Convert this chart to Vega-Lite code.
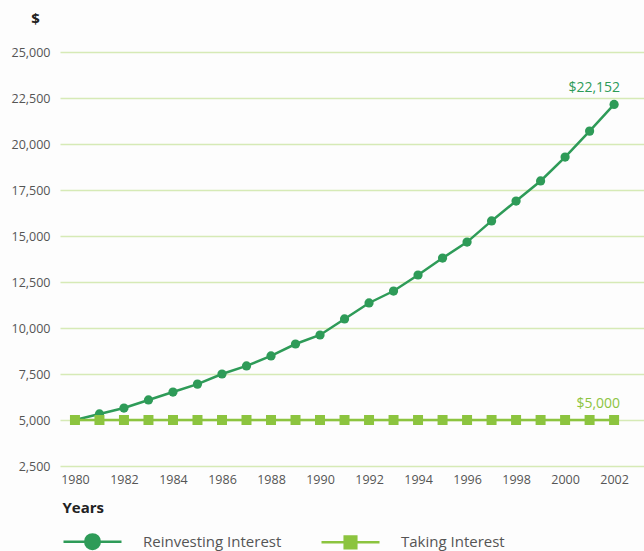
{
  "$schema": "https://vega.github.io/schema/vega-lite/v6.json",
  "autosize": "none",
  "width": 584,
  "height": 414,
  "padding": {"left": 60, "top": 52, "right": 0, "bottom": 85},
  "background": "#fdfdfd",
  "config": {"view": {"stroke": null}, "font": "Open Sans"},
  "datasets": {
    "series": [
      {"year": 1980, "value": 5000, "series": "Reinvesting Interest"},
      {"year": 1981, "value": 5330, "series": "Reinvesting Interest"},
      {"year": 1982, "value": 5650, "series": "Reinvesting Interest"},
      {"year": 1983, "value": 6090, "series": "Reinvesting Interest"},
      {"year": 1984, "value": 6520, "series": "Reinvesting Interest"},
      {"year": 1985, "value": 6950, "series": "Reinvesting Interest"},
      {"year": 1986, "value": 7500, "series": "Reinvesting Interest"},
      {"year": 1987, "value": 7940, "series": "Reinvesting Interest"},
      {"year": 1988, "value": 8480, "series": "Reinvesting Interest"},
      {"year": 1989, "value": 9130, "series": "Reinvesting Interest"},
      {"year": 1990, "value": 9620, "series": "Reinvesting Interest"},
      {"year": 1991, "value": 10490, "series": "Reinvesting Interest"},
      {"year": 1992, "value": 11360, "series": "Reinvesting Interest"},
      {"year": 1993, "value": 12010, "series": "Reinvesting Interest"},
      {"year": 1994, "value": 12880, "series": "Reinvesting Interest"},
      {"year": 1995, "value": 13800, "series": "Reinvesting Interest"},
      {"year": 1996, "value": 14670, "series": "Reinvesting Interest"},
      {"year": 1997, "value": 15820, "series": "Reinvesting Interest"},
      {"year": 1998, "value": 16900, "series": "Reinvesting Interest"},
      {"year": 1999, "value": 17990, "series": "Reinvesting Interest"},
      {"year": 2000, "value": 19290, "series": "Reinvesting Interest"},
      {"year": 2001, "value": 20700, "series": "Reinvesting Interest"},
      {"year": 2002, "value": 22152, "series": "Reinvesting Interest"},
      {"year": 1980, "value": 5000, "series": "Taking Interest"},
      {"year": 1981, "value": 5000, "series": "Taking Interest"},
      {"year": 1982, "value": 5000, "series": "Taking Interest"},
      {"year": 1983, "value": 5000, "series": "Taking Interest"},
      {"year": 1984, "value": 5000, "series": "Taking Interest"},
      {"year": 1985, "value": 5000, "series": "Taking Interest"},
      {"year": 1986, "value": 5000, "series": "Taking Interest"},
      {"year": 1987, "value": 5000, "series": "Taking Interest"},
      {"year": 1988, "value": 5000, "series": "Taking Interest"},
      {"year": 1989, "value": 5000, "series": "Taking Interest"},
      {"year": 1990, "value": 5000, "series": "Taking Interest"},
      {"year": 1991, "value": 5000, "series": "Taking Interest"},
      {"year": 1992, "value": 5000, "series": "Taking Interest"},
      {"year": 1993, "value": 5000, "series": "Taking Interest"},
      {"year": 1994, "value": 5000, "series": "Taking Interest"},
      {"year": 1995, "value": 5000, "series": "Taking Interest"},
      {"year": 1996, "value": 5000, "series": "Taking Interest"},
      {"year": 1997, "value": 5000, "series": "Taking Interest"},
      {"year": 1998, "value": 5000, "series": "Taking Interest"},
      {"year": 1999, "value": 5000, "series": "Taking Interest"},
      {"year": 2000, "value": 5000, "series": "Taking Interest"},
      {"year": 2001, "value": 5000, "series": "Taking Interest"},
      {"year": 2002, "value": 5000, "series": "Taking Interest"}
    ],
    "labels": [
      {"year": 2002, "value": 22152, "series": "Reinvesting Interest", "label": "$22,152"},
      {"year": 2002, "value": 5000, "series": "Taking Interest", "label": "$5,000"}
    ]
  },
  "layer": [
    {
      "data": {"name": "series"},
      "mark": {"type": "line", "strokeWidth": 2.5},
      "encoding": {
        "x": {
          "field": "year", "type": "quantitative",
          "scale": {"domain": [1979.39, 2003.22], "nice": false, "zero": false},
          "axis": {
            "values": [1980,1982,1984,1986,1988,1990,1992,1994,1996,1998,2000,2002],
            "format": "d", "grid": false, "domain": false, "ticks": false,
            "labelPadding": 7, "labelFontSize": 12.5, "labelColor": "#555555",
            "labelFont": "Open Sans",
            "title": "Years", "titleFontSize": 15, "titleFontWeight": "bold", "titleColor": "#222222",
            "titleAnchor": "start", "titleAlign": "left", "titleBaseline": "middle",
            "titleX": 2, "titleY": 41
          }
        },
        "y": {
          "field": "value", "type": "quantitative",
          "scale": {"domain": [2500, 25000], "nice": false, "zero": false},
          "axis": {
            "values": [2500,5000,7500,10000,12500,15000,17500,20000,22500,25000],
            "format": ",d", "grid": true, "gridColor": "#d6eab6", "gridWidth": 1.5,
            "domain": false, "ticks": false, "labelPadding": 10,
            "labelFontSize": 12.5, "labelColor": "#555555", "labelFont": "Open Sans",
            "title": "$", "titleAngle": 0, "titleFontSize": 15, "titleFontWeight": "bold",
            "titleColor": "#222222", "titleAlign": "center", "titleBaseline": "middle",
            "titleX": -25, "titleY": -34
          }
        },
        "color": {
          "field": "series", "type": "nominal",
          "scale": {"domain": ["Reinvesting Interest", "Taking Interest"], "range": ["#2e9b58", "#8cc43f"]},
          "legend": {
            "orient": "none", "direction": "horizontal", "title": null,
            "legendX": 2, "legendY": 459,
            "symbolSize": 3364, "symbolStrokeWidth": 2.5,
            "labelFontSize": 15, "labelColor": "#555555", "labelFont": "Open Sans",
            "labelOffset": 20, "columnPadding": 34,
            "encode": {
              "symbols": {
                "update": {
                  "shape": {"signal": "datum.value === 'Reinvesting Interest' ? 'M-1,0H1M-0.25,0A0.25,0.25 0 1 1 0.25,0A0.25,0.25 0 1 1 -0.25,0Z' : 'M-1,0H1M-0.2,-0.2H0.2V0.2H-0.2Z'"},
                  "fill": {"scale": "color", "field": "value"},
                  "stroke": {"scale": "color", "field": "value"},
                  "fillOpacity": {"value": 1}
                }
              }
            }
          }
        },
        "order": {"field": "year", "type": "quantitative"}
      }
    },
    {
      "data": {"name": "series"},
      "transform": [{"filter": "datum.series === 'Reinvesting Interest'"}],
      "mark": {"type": "point", "filled": true, "opacity": 1, "shape": "circle", "size": 85},
      "encoding": {
        "x": {"field": "year", "type": "quantitative"},
        "y": {"field": "value", "type": "quantitative"},
        "color": {"field": "series", "type": "nominal"}
      }
    },
    {
      "data": {"name": "series"},
      "transform": [{"filter": "datum.series === 'Taking Interest'"}],
      "mark": {"type": "point", "filled": true, "opacity": 1, "shape": "square", "size": 100},
      "encoding": {
        "x": {"field": "year", "type": "quantitative"},
        "y": {"field": "value", "type": "quantitative"},
        "color": {"field": "series", "type": "nominal"}
      }
    },
    {
      "data": {"name": "labels"},
      "mark": {"type": "text", "align": "right", "baseline": "bottom", "fontSize": 14, "dy": -9, "dx": 6, "font": "Open Sans"},
      "encoding": {
        "x": {"field": "year", "type": "quantitative"},
        "y": {"field": "value", "type": "quantitative"},
        "text": {"field": "label"},
        "color": {"field": "series", "type": "nominal"}
      }
    }
  ]
}
